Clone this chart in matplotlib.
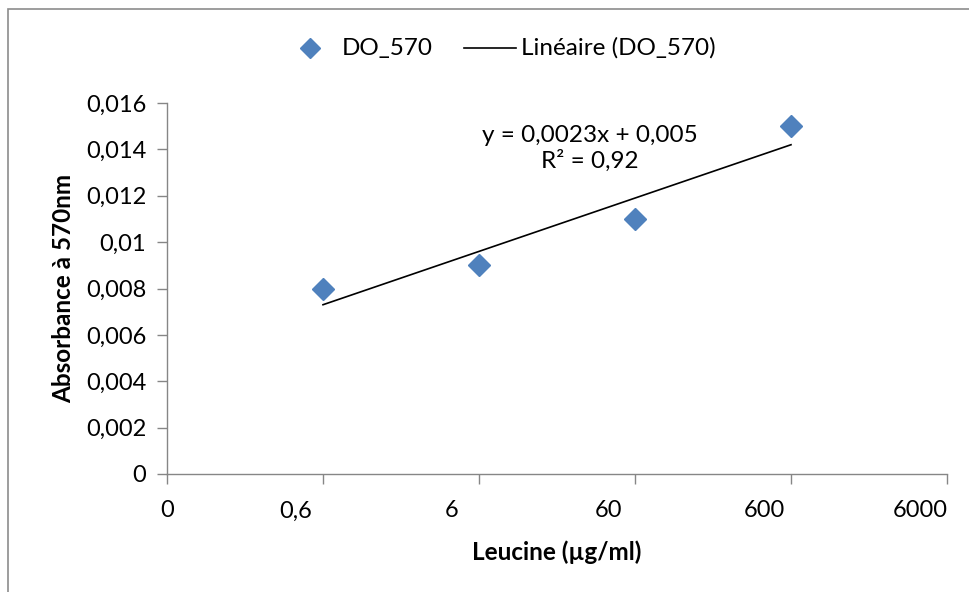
import numpy as np
import matplotlib
matplotlib.use("Agg")
import matplotlib.pyplot as plt
from matplotlib.lines import Line2D
from matplotlib.patches import Rectangle
import matplotlib.transforms as mtransforms

plt.rcParams['font.family'] = ['Lato', 'DejaVu Sans']

# Category axis labels (concentrations of leucine, µg/ml)
categories = ["0", "0,6", "6", "60", "600", "6000"]
# Measured optical density at 570 nm, at categories 0,6 / 6 / 60 / 600
point_positions = [1, 2, 3, 4]
do_570 = [0.008, 0.009, 0.011, 0.015]
y_ticks = [0, 0.002, 0.004, 0.006, 0.008, 0.010, 0.012, 0.014, 0.016]
y_tick_labels = ["0", "0,002", "0,004", "0,006", "0,008", "0,01", "0,012", "0,014", "0,016"]

W, H = 969, 592
fig = plt.figure(figsize=(W / 100, H / 100), dpi=100)
FS = 17.5

# Outer chart frame
fig.patches.append(Rectangle((8 / W, -0.05), 1.2, (H - 9) / H + 0.05,
                             transform=fig.transFigure, fill=False,
                             edgecolor="#8c8c8c", linewidth=1.2))

left, right, top, bottom = 167, 947, 103, 474
ax = fig.add_axes([left / W, 1 - bottom / H, (right - left) / W, (bottom - top) / H])

axis_col = "#868686"
for s in ["top", "right"]:
    ax.spines[s].set_visible(False)
for s in ["left", "bottom"]:
    ax.spines[s].set_color(axis_col)
    ax.spines[s].set_linewidth(1.0)

ax.set_xlim(0, len(categories) - 1)
ax.set_ylim(0, 0.016)

ax.set_yticks(y_ticks)
ax.set_yticklabels(y_tick_labels)
ax.set_xticks(range(len(categories)))
ax.set_xticklabels(categories)
ax.tick_params(axis="both", colors=axis_col, labelcolor="black", labelsize=17,
               length=7, width=1.0, direction="out")
ax.tick_params(axis="y", pad=8)
ax.tick_params(axis="x", pad=12)

# Category labels sit slightly left of their tick, except the first one
for i, lab in enumerate(ax.get_xticklabels()):
    if i > 0:
        lab.set_transform(lab.get_transform() +
                          mtransforms.ScaledTranslation(-0.27, 0, fig.dpi_scale_trans))

# Data points
ax.plot(point_positions, do_570, linestyle="none", marker="D", markersize=11.5,
        color="#4F81BD", markeredgecolor="#4F81BD", clip_on=False, zorder=3)

# Linear trendline over the category index
x = np.array(point_positions, dtype=float)
y = np.array(do_570)
slope, intercept = np.polyfit(x, y, 1)
fit = slope * x + intercept
r2 = 1 - np.sum((y - fit) ** 2) / np.sum((y - y.mean()) ** 2)
ax.plot(x, fit, color="black", linewidth=1.2, zorder=2)

eq = "y = {:.4f}x + {:.3f}".format(slope, intercept).replace(".", ",")
r2_txt = "R² = {:.2f}".format(r2).replace(".", ",")
ax.text(2.71, 0.01405, eq + "\n" + r2_txt, ha="center", va="center",
        fontsize=FS, linespacing=1.2)

ax.set_ylabel("Absorbance à 570nm", fontsize=FS, fontweight="bold", labelpad=8)
ax.set_xlabel("Leucine (µg/ml)", fontsize=FS, fontweight="bold", labelpad=14)

# Legend drawn in figure pixel coordinates
def fx(px):
    return px / W

def fy(py):
    return 1 - py / H

ly = 48
fig.lines.append(Line2D([fx(310)], [fy(ly)], linestyle="none", marker="D",
                        markersize=10.5, color="#4F81BD",
                        transform=fig.transFigure))
fig.text(fx(342), fy(ly), "DO_570", fontsize=FS, va="center", ha="left")
fig.lines.append(Line2D([fx(464), fx(516)], [fy(ly), fy(ly)], color="black",
                        linewidth=1.2, transform=fig.transFigure))
fig.text(fx(521), fy(ly), "Linéaire (DO_570)", fontsize=FS, va="center", ha="left")

fig.savefig("out.png", dpi=100)
